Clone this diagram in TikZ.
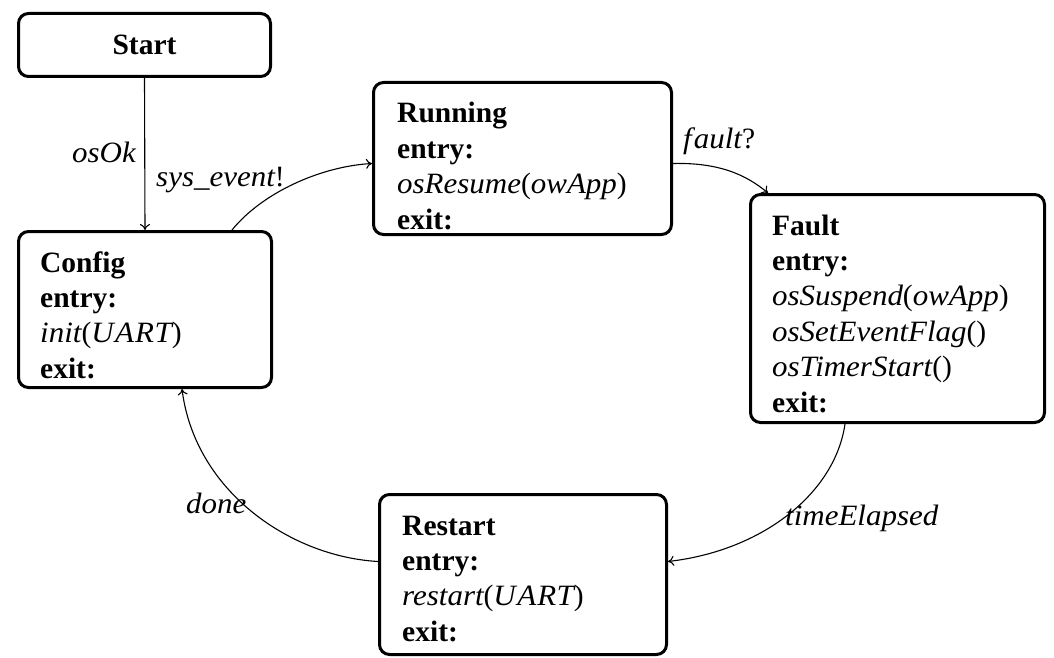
\documentclass[tikz,border=0pt]{standalone}
\usepackage{fontspec}
\setmainfont{Liberation Serif}
\newfontfamily\itfam[FakeStretch=1.05]{Liberation Serif}
\newcommand\mitx[1]{{\itfam\itshape #1}}
\newcommand\uartx{\mitx{U\kern1.5pt A\kern1pt R\kern0.5pt T}}
\usetikzlibrary{arrows.meta,calc}
\begin{document}
\begin{tikzpicture}[x=1pt,y=-1pt,
  font=\fontsize{29.5}{35.4}\selectfont,
  state/.style={draw, line width=3pt, rounded corners=10pt, inner sep=0pt, anchor=north west},
  body/.style={anchor=base west, inner sep=0pt},
  lbl/.style={anchor=base west, inner sep=0pt},
  tr/.style={line width=1.1pt, -{To[length=6pt,width=10pt]}}]
\useasboundingbox (0,0) rectangle (1054,658);

\node[state, minimum width=252pt, minimum height=63pt] (start) at (17,12) {\bfseries Start};
\node[state, minimum width=253pt, minimum height=156pt] (cfg) at (17,230) {};
\node[state, minimum width=298pt, minimum height=152pt] (run) at (372,81) {};
\node[state, minimum width=294pt, minimum height=228pt] (fault) at (749,193) {};
\node[state, minimum width=287pt, minimum height=160pt] (rst) at (378,493) {};

\node[body] (cfgtxt) at ($(cfg.north west)+(23,42)$) {\begin{tabular}[t]{@{}l@{}}\textbf{Config}\\ \textbf{entry:}\\ \mitx{init}(\uartx)\\ \textbf{exit:}\end{tabular}};
\node[body] (runtxt) at ($(run.north west)+(25,42)$) {\begin{tabular}[t]{@{}l@{}}\textbf{Running}\\ \textbf{entry:}\\ \mitx{osResume}(\mitx{owApp})\\ \textbf{exit:}\end{tabular}};
\node[body] (faulttxt) at ($(fault.north west)+(23,42)$) {\begin{tabular}[t]{@{}l@{}}\textbf{Fault}\\ \textbf{entry:}\\ \mitx{osSuspend}(\mitx{owApp})\\ \mitx{osSetEventFlag}()\\ \mitx{osTimerStart}()\\ \textbf{exit:}\end{tabular}};
\node[body] (rsttxt) at ($(rst.north west)+(24,42)$) {\begin{tabular}[t]{@{}l@{}}\textbf{Restart}\\ \textbf{entry:}\\ \mitx{restart}(\uartx)\\ \textbf{exit:}\end{tabular}};

\draw[tr] (start.south) -- (cfg.north);
\draw[tr] ($(cfg.north west)+(215,0)$) .. controls +(30,-37) and +(-52,3) .. ($(run.west)+(0,5)$);
\draw[tr] ($(run.east)+(0,5)$) .. controls +(45,-1) and +(-23,-19) .. ($(fault.north west)+(19,0)$);
\draw[tr] ($(fault.south west)+(96,0)$) .. controls +(-10,69) and +(95,-11) .. ($(rst.east)+(0,-13)$);
\draw[tr] ($(rst.west)+(0,-13)$) .. controls +(-88,-5) and +(13,102) .. ($(cfg.south west)+(165,0)$);

\node[lbl] (l1) at (72,162) {\mitx{osOk}};
\node[lbl] (l2) at (156,186) {\mitx{sys\_event}!};
\node[lbl] (l3) at (683,148) {\mitx{f\kern2pt ault}?};
\node[lbl] (l4) at (785,525) {\mitx{timeElapsed}};
\node[lbl] (l5) at (186,513) {\mitx{done}};
\end{tikzpicture}
\end{document}
